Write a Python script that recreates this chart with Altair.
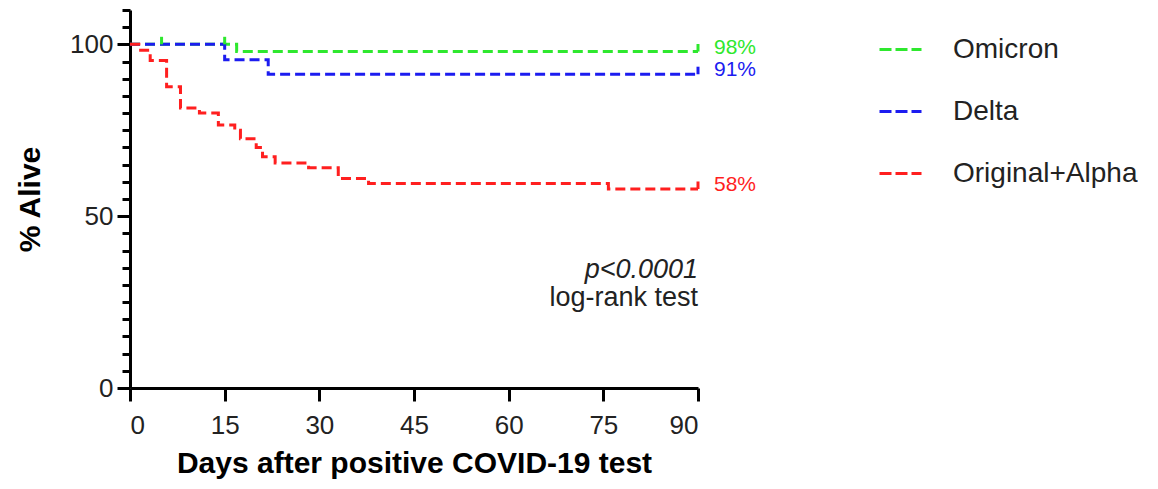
import altair as alt
import pandas as pd

series = ["Omicron", "Delta", "Original+Alpha"]
colors = ["#2ee82e", "#1c1cf0", "#ff1f1f"]

omicron_days = [0, 16.9, 90]
omicron_alive = [100, 97.9, 97.9]
delta_days = [0, 15.0, 21.9, 90]
delta_alive = [100, 95.5, 91.3, 91.3]
orig_days = [0, 1.4, 3.2, 5.8, 8.0, 11.0, 14.0, 16.6, 17.5, 20.0, 21.0,
             23.0, 28.3, 33.0, 37.8, 75.8, 90]
orig_alive = [100, 98.3, 95.3, 87.7, 81.5, 80.0, 76.5, 75.0, 72.5, 70.0, 67.3,
              65.5, 64.1, 61.0, 59.5, 57.9, 57.9]

censor_days = {"Omicron": [5, 15, 90], "Delta": [90], "Original+Alpha": [90]}
end_labels = ["98%", "91%", "58%"]
x_ticks = [0, 15, 30, 45, 60, 75, 90]
y_ticks = list(range(0, 115, 5))
pvalue_text = ["p<0.0001"]
test_text = ["log-rank test"]
annot_day = 90
pvalue_alive = 34.3
test_alive = 26.2

curves = {
    "Omicron": (omicron_days, omicron_alive),
    "Delta": (delta_days, delta_alive),
    "Original+Alpha": (orig_days, orig_alive),
}

rows = []
for s in series:
    d, a = curves[s]
    for i, (dd, aa) in enumerate(zip(d, a)):
        rows.append({"series": s, "day": dd, "alive": aa, "idx": i})
line_df = pd.DataFrame(rows)

crows = []
for s in series:
    d, a = curves[s]
    for cd in censor_days[s]:
        val = [aa for dd, aa in zip(d, a) if dd <= cd][-1]
        crows.append({"series": s, "day": cd, "alive": val})
censor_df = pd.DataFrame(crows)

end_df = pd.DataFrame({
    "series": series,
    "day": [curves[s][0][-1] for s in series],
    "alive": [curves[s][1][-1] for s in series],
    "label": end_labels,
})
pval_df = pd.DataFrame({"text": pvalue_text, "day": [annot_day], "alive": [pvalue_alive]})
test_df = pd.DataFrame({"text": test_text, "day": [annot_day], "alive": [test_alive]})

FONT = "Liberation Sans"

x_scale = alt.Scale(domain=[0, 90], nice=False)
y_scale = alt.Scale(domain=[0, 110], nice=False)
color_scale = alt.Scale(domain=series, range=colors)

x_axis = alt.Axis(
    values=x_ticks, title="Days after positive COVID-19 test",
    tickSize=13, labelPadding=11, titlePadding=10,
    labelFontSize=26, titleFontSize=30, labelFont=FONT, titleFont=FONT,
    labelColor="#222222", titleColor="black", titleFontWeight="bold",
    domainColor="black", domainWidth=3, tickColor="black", tickWidth=3,
    grid=False, labelOverlap=False)
y_axis = alt.Axis(
    values=y_ticks, title="% Alive",
    labelExpr="datum.value % 50 === 0 ? datum.label : ''",
    tickSize={"condition": {"test": "datum.value % 50 === 0", "value": 13}, "value": 8},
    labelPadding=4, titlePadding=24, labelOverlap=False,
    labelFontSize=26, titleFontSize=30, labelFont=FONT, titleFont=FONT,
    labelColor="#222222", titleColor="black", titleFontWeight="bold",
    domainColor="black", domainWidth=3, tickColor="black", tickWidth=3,
    grid=False)


def xq():
    return alt.X("day:Q", scale=x_scale, axis=x_axis)


def yq():
    return alt.Y("alive:Q", scale=y_scale, axis=y_axis)


lines = alt.Chart(line_df).mark_line(
    interpolate="step-after", strokeDash=[10, 5], strokeWidth=3
).encode(
    x=xq(), y=yq(),
    color=alt.Color("series:N", scale=color_scale, sort=series, legend=alt.Legend(
        orient="none", legendX=748, legendY=17, title=None,
        symbolType="stroke", symbolSize=1764, symbolStrokeWidth=3,
        symbolDash=[12, 4], labelFontSize=28, labelFont=FONT, labelLimit=400,
        labelColor="#222222", rowPadding=25, labelOffset=30)),
    order="idx:Q",
)

censor = alt.Chart(censor_df).mark_rule(strokeWidth=3).encode(
    x=xq(),
    y=yq(),
    y2=alt.Y2("top:Q"),
    color=alt.Color("series:N", scale=color_scale, legend=None),
).transform_calculate(top="datum.alive + 2.2")

ends = alt.Chart(end_df).mark_text(
    align="left", baseline="middle", dx=16, dy=-4, fontSize=21, font=FONT
).encode(
    x=xq(), y=yq(), text="label:N",
    color=alt.Color("series:N", scale=color_scale, legend=None),
)

pval = alt.Chart(pval_df).mark_text(
    align="right", baseline="middle", fontSize=27, font=FONT,
    color="#222222", fontStyle="italic"
).encode(x=xq(), y=yq(), text="text:N")

test = alt.Chart(test_df).mark_text(
    align="right", baseline="middle", fontSize=27, font=FONT, color="#222222"
).encode(x=xq(), y=yq(), text="text:N")

chart = alt.layer(lines, censor, ends, pval, test).properties(
    width=568, height=378,
    autosize=alt.AutoSizeParams(type="none"),
    padding={"left": 122, "top": 2, "right": 440, "bottom": 93},
).configure(font=FONT).configure_view(stroke=None)

chart.save("out.html", embed_options={"renderer": "svg", "actions": False})
